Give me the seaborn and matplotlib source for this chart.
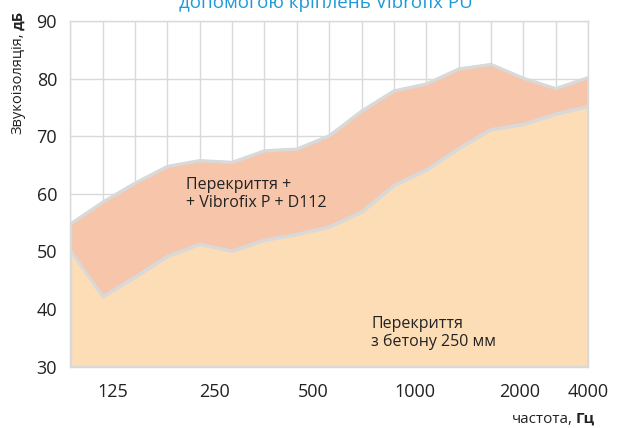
import numpy as np
import pandas as pd
import matplotlib
matplotlib.use("Agg")
import matplotlib.pyplot as plt
import seaborn as sns

# ---------------- data ----------------
freqs = [100, 125, 160, 200, 250, 315, 400, 500, 630, 800, 1000, 1250, 1600, 2000, 2500, 3150, 4000]
concrete = [50.2, 42.2, 45.6, 49.2, 51.3, 50.1, 52.0, 53.0, 54.3, 56.9, 61.5, 64.2, 67.9, 71.2, 72.1, 73.9, 75.2]
with_vibrofix = [54.8, 58.6, 61.9, 64.8, 65.8, 65.5, 67.5, 67.8, 70.1, 74.4, 77.9, 79.1, 81.7, 82.5, 80.1, 78.3, 80.2]
tick_labels = ["125", "250", "500", "1000", "2000", "4000"]
y_ticks = [30, 40, 50, 60, 70, 80, 90]

title_text = "допомогою кріплень Vibrofix PU"
label_upper = "Перекриття +\n+ Vibrofix P + D112"
label_lower = "Перекриття\nз бетону 250 мм"

# ---------------- style ----------------
sns.set_theme(style="white")
plt.rcParams["font.family"] = ["Open Sans", "DejaVu Sans"]

C_LOW = "#FDDDB6"
C_UP = "#F6C5AA"
C_LINE = "#D9D9D9"
C_GRID = "#D9D9D9"
C_TEXT = "#222222"
C_TITLE = "#1E9AD6"

W, H = 617, 428
fig = plt.figure(figsize=(W / 100, H / 100), dpi=100)
x0, x1, ytop, ybot = 70.3, 588.0, 21.0, 366.7
ax = fig.add_axes([x0 / W, (H - ybot) / H, (x1 - x0) / W, (ybot - ytop) / H])

pos = np.arange(len(freqs))
df = pd.DataFrame({
    "pos": np.concatenate([pos, pos]),
    "value": concrete + with_vibrofix,
    "series": ["concrete"] * len(pos) + ["vibrofix"] * len(pos),
})

# areas
ax.fill_between(pos, 30, concrete, facecolor=C_LOW, edgecolor=C_LINE, linewidth=2.0, zorder=2)
ax.fill_between(pos, concrete, with_vibrofix, facecolor=C_UP, edgecolor=C_LINE, linewidth=2.0, zorder=2)
sns.lineplot(data=df, x="pos", y="value", hue="series", palette=[C_LINE, C_LINE],
             linewidth=2.0, legend=False, ax=ax, zorder=3)
ax.vlines([pos[0], pos[-1]], 30, [with_vibrofix[0], with_vibrofix[-1]], color=C_LINE, linewidth=2.0, zorder=3)

ax.set_xlim(pos[0], pos[-1])
ax.set_ylim(30, 90)
ax.set_xlabel("")
ax.set_ylabel("")

# grid
ax.set_xticks(pos)
ax.set_xticklabels([""] * len(pos))
ax.set_yticks(y_ticks)
ax.set_yticklabels([str(v) for v in y_ticks], fontsize=13, color=C_TEXT)
ax.grid(True, which="major", color=C_GRID, linewidth=1.0, zorder=0)
ax.set_axisbelow(True)
for s in ax.spines.values():
    s.set_color(C_GRID)
    s.set_linewidth(1.0)
ax.tick_params(axis="both", which="major", direction="out", length=3.5, width=1, color="#BFBFBF")
ax.tick_params(axis="y", pad=6)

# category labels on minor ticks (Excel-like placement)
ax.xaxis.remove_overlapping_locs = False
label_pos = [1.3, 4.45, 7.5, 10.65, 13.9, 16.0]
ax.set_xticks(label_pos, minor=True)
ax.set_xticklabels(tick_labels, minor=True, fontsize=13, color=C_TEXT)
ax.tick_params(axis="x", which="minor", length=0, pad=12)

# in-plot labels (va='baseline' aligns the last line)
ax.text(3.585, 57.7, label_upper, fontsize=11.5, color=C_TEXT, va="baseline", ha="left",
        linespacing=1.15, zorder=5)
ax.text(9.3, 33.6, label_lower, fontsize=11.5, color=C_TEXT, va="baseline", ha="left",
        linespacing=1.15, zorder=5)

# title (partly cut off at top, as in the reference)
fig.text(326 / W, 1 - 8 / H, title_text, fontsize=13.5, color=C_TITLE, ha="center", va="baseline")

fig.canvas.draw()
r = fig.canvas.get_renderer()

# y-axis label with bold unit
t1 = fig.text(18 / W, (H - 134) / H, "Звукоізоляція,", rotation=90, fontsize=10.5,
              color=C_TEXT, ha="center", va="bottom")
fig.canvas.draw()
bb = t1.get_window_extent(r)
fig.text(18 / W, (bb.y1 + 3) / H, "дБ", rotation=90, fontsize=10.5, fontweight="bold",
         color=C_TEXT, ha="center", va="bottom")

# x-axis label with bold unit (right aligned)
t3 = fig.text(595 / W, 1 - 423 / H, "Гц", fontsize=11, fontweight="bold", color=C_TEXT,
              ha="right", va="baseline")
fig.canvas.draw()
bb3 = t3.get_window_extent(r)
fig.text((bb3.x0 - 3) / W, 1 - 423 / H, "частота,", fontsize=11, color=C_TEXT,
         ha="right", va="baseline")

fig.savefig("out.png", dpi=100)
